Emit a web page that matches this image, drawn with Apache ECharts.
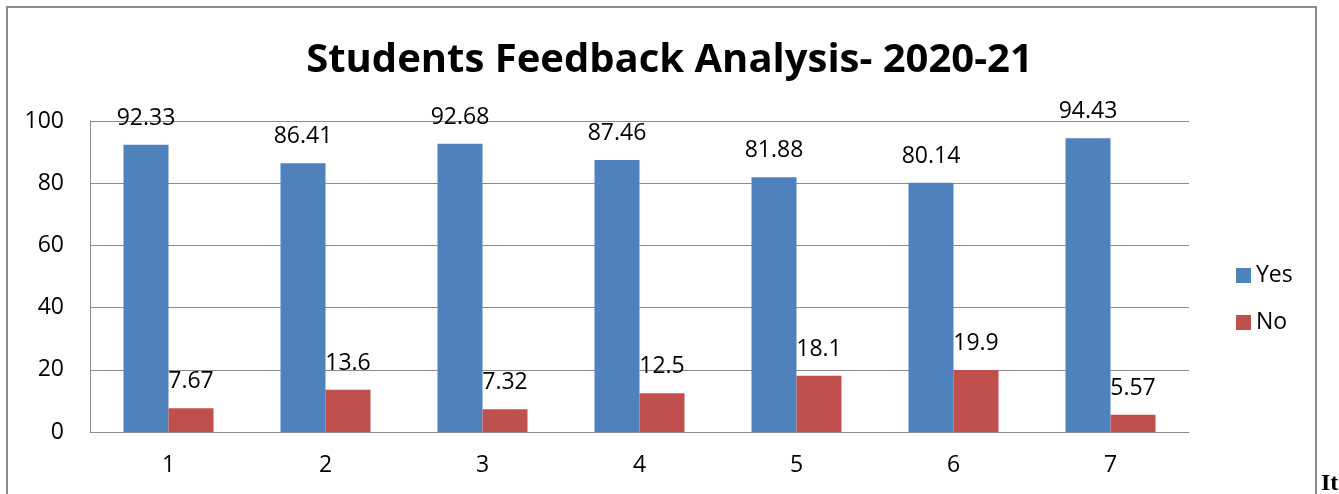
<!DOCTYPE html>
<html>
<head>
<meta charset="utf-8">
<script src="https://cdn.jsdelivr.net/npm/echarts@6/dist/echarts.min.js"></script>
<style>
  html, body { margin: 0; padding: 0; background: #fff; }
  #chart { width: 1339px; height: 494px; }
</style>
</head>
<body>
<div id="chart"></div>
<script>
// data
const categories = ['1', '2', '3', '4', '5', '6', '7']
const yesData = [92.33, 86.41, 92.68, 87.46, 81.88, 80.14, 94.43]
const noData = [7.67, 13.6, 7.32, 12.5, 18.1, 19.9, 5.57]

const font = 'Open Sans'
const chart = echarts.init(document.getElementById('chart'))

const labelStyle = {
  show: true,
  position: 'top',
  distance: 15,
  fontFamily: font,
  fontSize: 23,
  color: '#000'
}

const option = {
  animation: false,
  title: {
    text: 'Students Feedback Analysis- 2020-21',
    left: 'center',
    top: 36,
    textStyle: {
      fontFamily: font,
      fontWeight: 'bold',
      fontSize: 40,
      color: '#000'
    }
  },
  graphic: [
    {
      type: 'rect',
      shape: { x: 7, y: 7, width: 1309, height: 500 },
      style: { fill: 'none', stroke: '#8c8c8c', lineWidth: 2 },
      silent: true
    },
    {
      type: 'text',
      left: 1321,
      top: 472,
      style: {
        text: 'It',
        fontFamily: 'Liberation Serif',
        fontWeight: 'bold',
        fontSize: 24,
        fill: '#000'
      }
    }
  ],
  legend: {
    orient: 'vertical',
    left: 1231,
    top: 259,
    itemWidth: 15,
    itemHeight: 15,
    itemGap: 24,
    icon: 'rect',
    textStyle: { fontFamily: font, fontSize: 23, color: '#000' },
    data: ['Yes', 'No']
  },
  grid: {
    left: 90,
    right: 150,
    top: 121,
    bottom: 62
  },
  xAxis: {
    type: 'category',
    data: categories,
    axisTick: { show: false },
    axisLine: { lineStyle: { color: '#8c8c8c', width: 1 } },
    axisLabel: { margin: 22, fontFamily: font, fontSize: 23, color: '#000' }
  },
  yAxis: {
    type: 'value',
    min: 0,
    max: 100,
    interval: 20,
    axisLine: { show: true, lineStyle: { color: '#8c8c8c', width: 1 } },
    axisTick: { show: false },
    axisLabel: { margin: 26, fontFamily: font, fontSize: 23, color: '#000' },
    splitLine: { lineStyle: { color: '#8c8c8c', width: 1 } }
  },
  series: [
    {
      name: 'Yes',
      type: 'bar',
      data: yesData,
      barWidth: 45,
      barGap: '0%',
      itemStyle: { color: '#4F81BD' },
      label: labelStyle
    },
    {
      name: 'No',
      type: 'bar',
      data: noData,
      barWidth: 45,
      itemStyle: { color: '#C0504D' },
      label: labelStyle
    }
  ]
}

chart.setOption(option)
</script>
</body>
</html>
